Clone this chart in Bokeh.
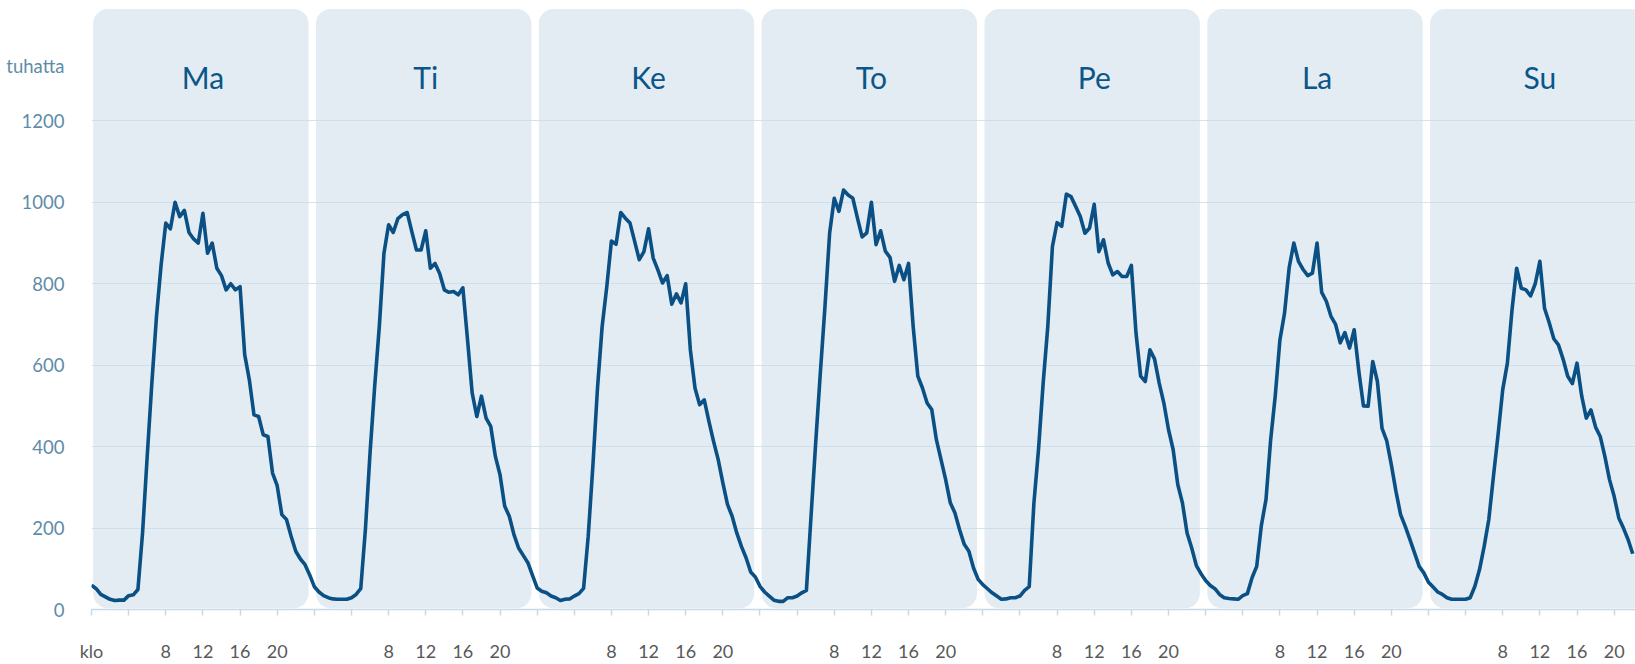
from bokeh.plotting import figure
from bokeh.models import ColumnDataSource, FixedTicker, Range1d
from bokeh.core.properties import value
from bokeh.embed import file_html
from bokeh.resources import INLINE

# ---------------- data ----------------
DAYS = ["Ma", "Ti", "Ke", "To", "Pe", "La", "Su"]

HOURS = [0, 0.5, 1, 1.5, 2, 2.5, 3, 3.5, 4, 4.5, 5, 5.5, 6, 6.5, 7, 7.5,
         8, 8.5, 9, 9.5, 10, 10.5, 11, 11.5, 12, 12.5, 13, 13.5, 14, 14.5, 15, 15.5,
         16, 16.5, 17, 17.5, 18, 18.5, 19, 19.5, 20, 20.5, 21, 21.5, 22, 22.5, 23, 23.5]

MA = [60, 51, 37, 31, 25, 22, 23, 23, 34, 36, 49, 188, 376, 556, 720, 847,
      949, 935, 1000, 965, 980, 926, 910, 900, 973, 875, 900, 838, 820, 785, 800, 785,
      793, 626, 564, 478, 474, 429, 425, 335, 304, 233, 221, 180, 143, 124, 110, 85]
TI = [56, 43, 34, 29, 26, 25, 25, 25, 29, 37, 51, 196, 384, 548, 695, 875,
      945, 926, 960, 970, 975, 928, 883, 883, 930, 838, 850, 825, 785, 779, 781, 773,
      790, 663, 532, 474, 524, 470, 450, 376, 331, 254, 229, 184, 151, 133, 115, 84]
KE = [53, 45, 41, 33, 29, 22, 25, 26, 33, 39, 52, 180, 352, 544, 695, 793,
      905, 897, 975, 961, 949, 904, 859, 879, 935, 863, 834, 802, 820, 750, 775, 753,
      800, 638, 544, 503, 515, 462, 413, 368, 311, 258, 229, 188, 155, 127, 92, 80]
TO = [57, 43, 33, 23, 20, 20, 29, 29, 33, 41, 47, 229, 409, 581, 744, 924,
      1010, 978, 1030, 1018, 1010, 961, 915, 925, 1000, 896, 930, 880, 865, 806, 845, 810,
      850, 695, 573, 544, 507, 491, 417, 368, 319, 262, 237, 196, 160, 143, 102, 74]
PE = [61, 51, 41, 33, 25, 26, 29, 29, 33, 47, 56, 260, 393, 556, 695, 892,
      950, 941, 1020, 1014, 990, 965, 924, 937, 995, 879, 908, 851, 822, 830, 818, 818,
      845, 679, 573, 560, 638, 615, 556, 507, 442, 393, 307, 262, 188, 151, 108, 88]
LA = [71, 59, 51, 37, 29, 27, 26, 25, 34, 39, 78, 106, 206, 270, 416, 525,
      662, 728, 840, 900, 855, 835, 820, 826, 900, 779, 757, 720, 700, 655, 680, 642,
      687, 585, 500, 499, 609, 560, 445, 415, 356, 290, 233, 204, 172, 139, 106, 90]
SU = [67, 55, 43, 37, 29, 25, 25, 25, 25, 29, 57, 98, 155, 221, 327, 430,
      540, 605, 736, 838, 789, 785, 770, 800, 855, 740, 705, 665, 650, 615, 573, 555,
      605, 525, 470, 490, 448, 425, 376, 319, 278, 225, 200, 172, 137]

SERIES = [MA, TI, KE, TO, PE, LA, SU]

Y_TICKS = [0, 200, 400, 600, 800, 1000, 1200]
UNIT_LABEL = "tuhatta"
UNIT_LABEL_POS = 1336

X_TICK_HOURS = [0, 4, 8, 12, 16, 20]
X_TICK_LABELS = ["", "", "8", "12", "16", "20"]
FIRST_TICK_LABEL = "klo"

# ---------------- styling ----------------
LINE_COLOR = "#0a5085"
PANEL_COLOR = "#e3ecf2"
GRID_COLOR = "#c6dbe8"
AXIS_COLOR = "#c5d9e6"
YLABEL_COLOR = "#5e8ca8"
XLABEL_COLOR = "#595959"
DAY_COLOR = "#0b5689"
FONT = "Lato"

Y_TOP = 1476
X_END = 166.3

p = figure(width=1635, height=664, output_backend="svg", toolbar_location=None,
           x_range=Range1d(0, X_END), y_range=Range1d(0, Y_TOP),
           min_border_left=91, min_border_right=0, min_border_top=8,
           min_border_bottom=53)
p.outline_line_color = None
p.background_fill_color = "white"
p.border_fill_color = "white"

# day panels
n = len(DAYS)
panels = ColumnDataSource(dict(
    left=[d * 24 + 0.18 for d in range(n)],
    right=[d * 24 + 23.38 for d in range(n)],
    bottom=[3] * n,
    top=[Y_TOP - 1] * n,
))
p.quad(left="left", right="right", bottom="bottom", top="top", source=panels,
       fill_color=PANEL_COLOR, line_color=None, border_radius=15, level="image")

# grid
p.xgrid.visible = False
p.ygrid.ticker = FixedTicker(ticks=Y_TICKS[1:])
p.ygrid.grid_line_color = GRID_COLOR
p.ygrid.grid_line_alpha = 0.75
p.ygrid.grid_line_width = 1

# line
xs, ys = [], []
for d, vals in enumerate(SERIES):
    for h, v in zip(HOURS, vals):
        xs.append(d * 24 + h)
        ys.append(v)
src = ColumnDataSource(dict(x=xs, y=ys))
p.line("x", "y", source=src, line_color=LINE_COLOR, line_width=3.6, line_join="round")

# day labels
p.text(x=[d * 24 + 12 for d in range(n)], y=[1307] * n, text=DAYS,
       text_align="center", text_baseline="alphabetic",
       text_font=value(FONT), text_font_size="30px", text_color=DAY_COLOR)

# y axis
yax = p.yaxis[0]
yax.ticker = FixedTicker(ticks=Y_TICKS + [UNIT_LABEL_POS])
overrides = {t: str(t) for t in Y_TICKS}
overrides[UNIT_LABEL_POS] = UNIT_LABEL
yax.major_label_overrides = overrides
yax.axis_line_color = None
yax.major_tick_line_color = None
yax.minor_tick_line_color = None
yax.major_label_standoff = 21
yax.major_label_text_font = FONT
yax.major_label_text_font_size = "18.5px"
yax.major_label_text_color = YLABEL_COLOR

# x axis
xax = p.xaxis[0]
ticks = []
xover = {}
for d in range(n):
    for h, lab in zip(X_TICK_HOURS, X_TICK_LABELS):
        t = d * 24 + h
        if t <= X_END:
            ticks.append(t)
            xover[t] = lab
xover[0] = FIRST_TICK_LABEL
xax.ticker = FixedTicker(ticks=ticks)
xax.major_label_overrides = xover
xax.axis_line_color = AXIS_COLOR
xax.axis_line_width = 1.5
xax.major_tick_line_color = AXIS_COLOR
xax.major_tick_line_width = 1.5
xax.major_tick_out = 6
xax.major_tick_in = 0
xax.minor_tick_line_color = None
xax.major_label_standoff = 24
xax.major_label_text_font = FONT
xax.major_label_text_font_size = "18px"
xax.major_label_text_color = XLABEL_COLOR

open("out.html", "w").write(file_html(p, INLINE))
